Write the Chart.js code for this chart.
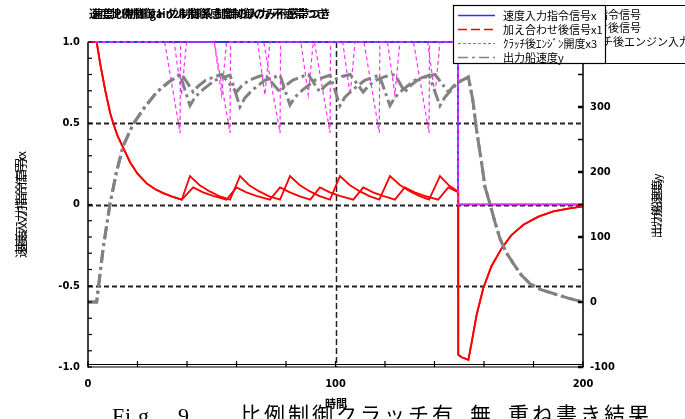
<!DOCTYPE html>
<html><head><meta charset="utf-8">
<script src="https://cdn.jsdelivr.net/npm/chart.js@4/dist/chart.umd.min.js"></script>
<style>html,body{margin:0;padding:0;background:#fff;}#wrap{width:685px;height:419px;position:relative;}</style>
</head><body><div id="wrap"><canvas id="c" width="685" height="419"></canvas></div>
<script>
// ---- tick labels ----
const xTicks = [0, 100, 200];
const xTickLabels = ['0', '100', '200'];
const yTicks = [-1, -0.5, 0, 0.5, 1];
const yTickLabels = ['-1.0', '-0.5', '0', '0.5', '1.0'];
const y2Ticks = [-100, 0, 100, 200, 300, 400];
const y2TickLabels = ['-100', '0', '100', '200', '300', ''];

// ---- series names ----
const seriesNames = ['速度入力指令信号x', '加え合わせ後信号x1', 'ｸﾗｯﾁ後ｴﾝｼﾞﾝ開度x3', '出力船速度y'];

// ---- 速度入力指令信号x ----
const blue_t = [0, 149.5, 149.5, 200];
const blue_v = [1, 1, 0, 0];

// ---- 加え合わせ後信号x1 (run A, run B) ----
const redA_t = [0, 3.5, 5, 7, 9, 10.2, 12, 14.3, 17, 20, 23.7, 27, 30.4, 34, 37.9,
  42.5, 46.5, 50.5, 56, 60, 64, 68, 73.5, 77.6, 81.6, 85.6, 89.8, 93.7, 97.7, 101.7, 107.2,
  111.2, 115.2, 119.2, 124, 128, 132, 136, 141.5, 145.6, 149.5,
  149.6, 151, 153.7, 155, 157, 159.7, 163, 167.1, 171, 175.9, 182, 188, 194, 200];
const redA_v = [1, 1, 0.86, 0.70, 0.56, 0.50, 0.42, 0.347, 0.26, 0.19, 0.13, 0.095, 0.07, 0.048, 0.03,
  0.105, 0.075, 0.053, 0.03, 0.105, 0.075, 0.053, 0.03, 0.105, 0.075, 0.05, 0.03, 0.105, 0.075, 0.053, 0.03,
  0.105, 0.075, 0.053, 0.03, 0.105, 0.075, 0.053, 0.03, 0.105, 0.075,
  -0.925, -0.94, -0.956, -0.85, -0.68, -0.515, -0.38, -0.27, -0.19, -0.125, -0.075, -0.043, -0.025, -0.012];
const redB_t = [0, 3.5, 5, 7, 9, 10.2, 12, 14.3, 17, 20, 23.7, 27, 30.4, 34, 37.9,
  41.2, 45, 49, 53, 57.4, 61.4, 65, 69, 73, 77.6, 81.6, 85.5, 89.5, 93.5, 97.8,
  101.8, 105.7, 109.7, 113.7, 117.7, 122, 126, 130, 134, 137.8, 142.2, 146, 149.5,
  149.6, 151, 153.7, 155, 157, 159.7, 163, 167.1, 171, 175.9, 182, 188, 194, 200];
const redB_v = [1, 1, 0.86, 0.70, 0.56, 0.50, 0.42, 0.347, 0.26, 0.19, 0.13, 0.095, 0.07, 0.048, 0.03,
  0.175, 0.12, 0.082, 0.052, 0.03, 0.175, 0.12, 0.082, 0.052, 0.03, 0.175, 0.12, 0.082, 0.052, 0.03,
  0.175, 0.12, 0.082, 0.052, 0.03, 0.175, 0.12, 0.082, 0.052, 0.03, 0.175, 0.115, 0.08,
  -0.925, -0.94, -0.956, -0.85, -0.68, -0.515, -0.38, -0.27, -0.19, -0.125, -0.075, -0.043, -0.025, -0.012];

// ---- ｸﾗｯﾁ後ｴﾝｼﾞﾝ開度x3 (run A, run B) ----
const magA_t = [0, 34.8, 37.8, 39.8, 51, 54, 56, 68.5, 71.5, 73.5, 86, 89, 91, 102.9, 105.9, 107.9,
  121, 124, 126, 137.2, 140.2, 142.2, 149.5, 149.5, 200];
const magA_v = [1, 1, 0.675, 1, 1, 0.675, 1, 1, 0.675, 1, 1, 0.675, 1, 1, 0.675, 1,
  1, 0.675, 1, 1, 0.675, 1, 1, 0, 0];
const magB_t = [0, 31, 37.2, 37.4, 51, 57.4, 57.6, 71, 77.6, 77.8, 91.5, 97.8, 98, 111.5, 117.7, 117.9,
  131.5, 137.8, 138, 149.5, 149.5, 200];
const magB_v = [1, 1, 0.44, 1, 1, 0.44, 1, 1, 0.44, 1, 1, 0.44, 1, 1, 0.44, 1,
  1, 0.44, 1, 1, 0, 0];

// ---- 出力船速度y (right axis; run A, run B) ----
const grayA_t = [0, 3.5, 6.2, 8.9, 11.5, 14.3, 18.3, 23, 27.8, 32.5, 37.2, 37.8,
  42.5, 44.5, 47.5, 51.5, 54, 60, 62, 65, 69, 71.5, 77.6, 79.6, 82.6, 86.6, 89,
  93.7, 95.7, 98.7, 102.7, 105.9, 111.2, 113.2, 116.2, 120.2, 124, 128, 130, 133, 137, 140.2,
  145.6, 147.6, 149.5, 153.7, 155.5, 157, 159, 160.4, 162.4, 164.5, 166.5, 169, 171.9, 175, 178.6, 183, 188, 194, 200];
const grayA_v = [0, 0, 85, 151, 200, 241, 274, 300, 323, 338, 350, 351,
  323, 332, 341, 347, 350, 323, 332, 341, 347, 350, 323, 332, 341, 347, 350,
  323, 332, 341, 347, 350, 323, 332, 341, 347, 350, 323, 332, 341, 347, 350,
  323, 332, 338, 346, 310, 264, 215, 177, 151, 122, 97, 76, 59, 42, 28, 19, 13, 6, 0];
const grayB_t = [0, 3.5, 6.2, 8.9, 11.5, 14.3, 18.3, 23, 27.8, 32.5, 37.2,
  41.2, 43.2, 46.2, 51.2, 57.4, 61.4, 63.4, 66.4, 71.4, 77.6, 81.6, 83.6, 86.6, 91.6, 97.8,
  101.8, 103.8, 106.8, 111.8, 117.7, 122, 124, 127, 132, 137.8, 142.2, 144.2, 147.2, 149.5,
  153.7, 155.5, 157, 159, 160.4, 162.4, 164.5, 166.5, 169, 171.9, 175, 178.6, 183, 188, 194, 200];
const grayB_v = [0, 0, 85, 151, 200, 241, 274, 300, 323, 338, 350,
  302, 315, 326, 341, 349, 300, 314, 326, 341, 349, 303, 315, 326, 341, 349,
  302, 315, 326, 341, 349, 302, 315, 326, 341, 349, 302, 315, 328, 338,
  346, 310, 264, 215, 177, 151, 122, 97, 76, 59, 42, 28, 19, 13, 6, 0];

const pts = (t, v) => t.map((x, i) => ({x: x, y: v[i]}));

const TICKFONT = "'Liberation Sans Narrow','DejaVu Sans Condensed','Liberation Sans',sans-serif";
const JP = "'Noto Sans CJK JP','Noto Sans CJK SC',sans-serif";
Chart.defaults.color = '#000';

const C_BLUE = '#3030ff', C_RED = '#ff0000', C_MAG = '#ff30ff', C_GRAY = '#828282';

const decor = {
  id: 'decor',
  beforeDatasetsDraw(chart) {
    const ctx = chart.ctx, a = chart.chartArea;
    const x = chart.scales.x, y = chart.scales.y;
    ctx.save();
    ctx.strokeStyle = '#222';
    ctx.lineWidth = 2;
    ctx.setLineDash([5, 3]);
    [0.5, 0, -0.5].forEach(v => {
      const py = Math.round(y.getPixelForValue(v)) + 0.5;
      ctx.beginPath(); ctx.moveTo(a.left, py); ctx.lineTo(a.right, py); ctx.stroke();
    });
    ctx.lineWidth = 1.5;
    ctx.setLineDash([6, 3]);
    const px = Math.round(x.getPixelForValue(100)) + 0.5;
    ctx.beginPath(); ctx.moveTo(px, a.top); ctx.lineTo(px, a.bottom); ctx.stroke();
    ctx.restore();
  },
  afterDraw(chart) {
    const ctx = chart.ctx, a = chart.chartArea;
    const x = chart.scales.x, y = chart.scales.y, y2 = chart.scales.y2;
    ctx.save();
    ctx.setLineDash([]);
    ctx.strokeStyle = '#000';
    // axes
    ctx.lineWidth = 1.5;
    ctx.beginPath(); ctx.moveTo(a.left, a.top); ctx.lineTo(a.left, a.bottom + 0.5); ctx.stroke();
    ctx.beginPath(); ctx.moveTo(a.right, a.top); ctx.lineTo(a.right, a.bottom + 0.5); ctx.stroke();
    ctx.lineWidth = 1.2;
    ctx.beginPath(); ctx.moveTo(a.left, a.bottom); ctx.lineTo(a.right, a.bottom); ctx.stroke();
    ctx.beginPath(); ctx.moveTo(a.left, a.bottom - 2.5); ctx.lineTo(a.right, a.bottom - 2.5); ctx.stroke();
    // ticks
    ctx.lineWidth = 1.2;
    for (let v = -10; v <= 10; v++) {
      const py = y.getPixelForValue(v / 10);
      ctx.beginPath(); ctx.moveTo(a.left, py); ctx.lineTo(a.left + 4, py); ctx.stroke();
    }
    for (let v = 0; v <= 200; v += 20) {
      const px = x.getPixelForValue(v);
      ctx.beginPath(); ctx.moveTo(px, a.bottom); ctx.lineTo(px, a.bottom - 6); ctx.stroke();
    }
    for (let v = -100; v <= 400; v += 50) {
      const py = y2.getPixelForValue(v);
      ctx.lineWidth = (v % 100 === 0) ? 2.5 : 1.5;
      ctx.beginPath(); ctx.moveTo(a.right, py); ctx.lineTo(a.right - 5, py); ctx.stroke();
    }
    // title (overlapped strings)
    ctx.fillStyle = '#000';
    ctx.textBaseline = 'middle';
    ctx.textAlign = 'left';
    ctx.font = "bold 11px " + JP;
    ctx.fillText('速度比例制御トグル制御感度制御のみ不感帯つき', 89, 14);
    ctx.fillText('速度PI制御 gain2制御系 制御の入力 不感帯つき', 92, 14);
    // axis titles
    ctx.save();
    ctx.translate(21, 205); ctx.rotate(-Math.PI / 2);
    ctx.textAlign = 'center';
    ctx.font = "12px " + JP;
    ctx.fillText('速度入力指令信号x', -2, 0);
    ctx.fillText('速度入力指令信号x', 3, 0);
    ctx.restore();
    ctx.save();
    ctx.translate(657, 206); ctx.rotate(-Math.PI / 2);
    ctx.textAlign = 'center';
    ctx.font = "11px " + JP;
    ctx.fillText('出力船速度y', -2, 0);
    ctx.fillText('出力船速度y', 2, 0);
    ctx.restore();
    // caption (cut at bottom)
    ctx.textBaseline = 'top';
    ctx.font = "22px 'Liberation Serif','DejaVu Serif',serif";
    const cap1 = 'Fig. 9';
    let cx = 112;
    for (const ch of cap1) { ctx.fillText(ch, cx, 406); cx += (ch === ' ' ? 14 : 13); }
    ctx.font = "21px " + JP;
    const cap2 = '比例制御クラッチ有 無 重ね書き結果';
    cx = 240;
    for (const ch of cap2) { ctx.fillText(ch, cx, 404); cx += (ch === ' ' ? 14 : 24); }
    // x title
    ctx.font = "bold 11px " + JP;
    ctx.textAlign = 'center';
    ctx.textBaseline = 'middle';
    ctx.fillText('時間', 336, 404);
    // background legend (partially hidden)
    ctx.fillStyle = '#fff';
    ctx.fillRect(470, 5, 230, 58);
    ctx.strokeStyle = '#000'; ctx.lineWidth = 1;
    ctx.strokeRect(470.5, 5.5, 230, 58);
    ctx.fillStyle = '#000';
    ctx.textAlign = 'left';
    ctx.font = "11px " + JP;
    ctx.fillText('速度入力指令信号', 553, 15);
    ctx.fillText('加え合わせ後信号', 553, 28);
    ctx.fillText('クラッチ後エンジン入力', 569, 42);
    // main legend
    ctx.fillStyle = '#fff';
    ctx.fillRect(453, 5, 153, 58);
    ctx.strokeStyle = '#000'; ctx.lineWidth = 1.2;
    ctx.strokeRect(453.5, 5.5, 152, 58);
    const rows = [15.5, 29.5, 43.5, 57.5];
    const styles = [
      {c: C_BLUE, d: [], w: 1.5},
      {c: C_RED, d: [9, 4], w: 1.5},
      {c: C_MAG, d: [3, 2], w: 1.2},
      {c: C_GRAY, d: [10, 4, 3, 4], w: 1.5}
    ];
    rows.forEach((ry, i) => {
      ctx.strokeStyle = styles[i].c; ctx.lineWidth = styles[i].w; ctx.setLineDash(styles[i].d);
      ctx.beginPath(); ctx.moveTo(458, ry); ctx.lineTo(495, ry); ctx.stroke();
      ctx.setLineDash([]);
      ctx.fillStyle = '#000';
      ctx.font = "11px " + JP;
      ctx.fillText(seriesNames[i], 503, ry);
    });
    ctx.restore();
  }
};

new Chart(document.getElementById('c'), {
  type: 'line',
  data: {
    datasets: [
      {label: seriesNames[3], data: pts(grayA_t, grayA_v), yAxisID: 'y2', borderColor: C_GRAY, borderWidth: 3, borderDash: [13, 4, 3, 4], order: 1},
      {label: seriesNames[3], data: pts(grayB_t, grayB_v), yAxisID: 'y2', borderColor: C_GRAY, borderWidth: 3, borderDash: [13, 4, 3, 4], order: 1},
      {label: seriesNames[2], data: pts(magA_t, magA_v), yAxisID: 'y', borderColor: C_MAG, borderWidth: 1.2, borderDash: [4, 3], order: 2},
      {label: seriesNames[2], data: pts(magB_t, magB_v), yAxisID: 'y', borderColor: C_MAG, borderWidth: 1.2, borderDash: [4, 3], order: 2},
      {label: seriesNames[1], data: pts(redA_t, redA_v), yAxisID: 'y', borderColor: C_RED, borderWidth: 1.8, order: 3},
      {label: seriesNames[1], data: pts(redB_t, redB_v), yAxisID: 'y', borderColor: C_RED, borderWidth: 1.8, order: 3},
      {label: seriesNames[0], data: pts(blue_t, blue_v), yAxisID: 'y', borderColor: C_BLUE, borderWidth: 2, order: 4}
    ]
  },
  options: {
    responsive: false,
    animation: false,
    events: [],
    layout: {padding: {top: 42, left: 0, right: 0, bottom: 0}},
    elements: {point: {radius: 0}, line: {tension: 0, fill: false}},
    datasets: {line: {clip: false}},
    plugins: {legend: {display: false}, title: {display: false}, tooltip: {enabled: false}},
    scales: {
      x: {
        type: 'linear', min: 0, max: 200,
        grid: {display: false, drawTicks: false}, border: {display: false},
        afterBuildTicks: s => { s.ticks = xTicks.map(v => ({value: v})); },
        afterFit: s => { s.height = 52; },
        ticks: {padding: 11, maxRotation: 0, autoSkip: false,
          font: {family: TICKFONT, size: 11, weight: 'bold'},
          callback: (v, i) => xTickLabels[i]}
      },
      y: {
        position: 'left', min: -1, max: 1,
        grid: {display: false, drawTicks: false}, border: {display: false},
        afterBuildTicks: s => { s.ticks = yTicks.map(v => ({value: v})); },
        afterFit: s => { s.width = 88; },
        ticks: {padding: 8, autoSkip: false,
          font: {family: TICKFONT, size: 11, weight: 'bold'},
          callback: (v, i) => yTickLabels[i]}
      },
      y2: {
        position: 'right', min: -100, max: 400,
        grid: {display: false, drawTicks: false}, border: {display: false},
        afterBuildTicks: s => { s.ticks = y2Ticks.map(v => ({value: v})); },
        afterFit: s => { s.width = 102; },
        ticks: {padding: 7, autoSkip: false,
          font: {family: TICKFONT, size: 11, weight: 'bold'},
          callback: (v, i) => y2TickLabels[i]}
      }
    }
  },
  plugins: [decor]
});
</script></body></html>
